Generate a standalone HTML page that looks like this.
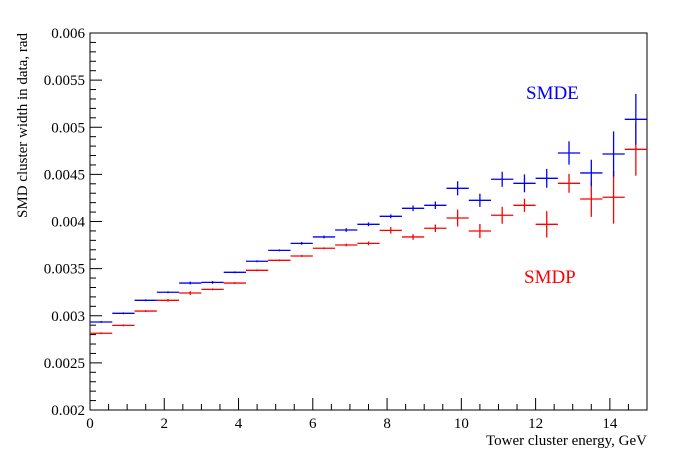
<!DOCTYPE html>
<html><head><meta charset="utf-8"><style>
body{margin:0;background:#fff}
svg{display:block;font-family:"Liberation Serif",serif}
</style></head><body>
<svg id="c" width="696" height="472"></svg>
<script>
const binLo=0, binWidth=0.6;
const smdeVals=[0.002934,0.003026,0.003164,0.003249,0.003347,0.003354,0.003461,0.003578,0.003694,0.003768,0.003836,0.003910,0.003970,0.004055,0.004140,0.004172,0.004352,0.004225,0.004448,0.004405,0.004458,0.004727,0.004515,0.004716,0.005084];
const smdeErrs=[0.00001,0.00001,0.00001,0.00001,0.000015,0.000015,0.00001,0.00001,0.00001,0.000015,0.000015,0.00002,0.00002,0.00002,0.00003,0.00004,0.000075,0.00007,0.00008,0.000095,0.0001,0.000124,0.00014,0.00024,0.00027];
const smdpVals=[0.002814,0.002898,0.003050,0.003164,0.003241,0.003280,0.003347,0.003482,0.003588,0.003634,0.003716,0.003751,0.003768,0.003906,0.003836,0.003928,0.004037,0.003899,0.004066,0.004172,0.003970,0.004405,0.004239,0.004257,0.004766];
const smdpErrs=[0.00001,0.00001,0.00001,0.000015,0.00002,0.00001,0.00001,0.00001,0.00001,0.00001,0.00001,0.000015,0.00002,0.000035,0.00003,0.00004,0.00009,0.000075,0.00009,0.00007,0.00014,0.0001,0.00019,0.00028,0.00028];
const yTicks=["0.002","0.0025","0.003","0.0035","0.004","0.0045","0.005","0.0055","0.006"];
const xTicks=["0","2","4","6","8","10","12","14"];
const NS="http://www.w3.org/2000/svg";
const svg=document.getElementById('c');
const L=90,R=647,T=33,B=410;
const X=v=>L+(v-0)/15*(R-L);
const Y=v=>B-(v-0.002)/0.004*(B-T);
function mk(tag,a,p){const e=document.createElementNS(NS,tag);for(const k in a)e.setAttribute(k,a[k]);(p||svg).appendChild(e);return e;}
const frame=mk('rect',{x:L,y:T,width:R-L,height:B-T,fill:'none',stroke:'#000','stroke-width':1});


const axes=mk('g',{stroke:'#000','stroke-width':1});


for(let i=0;i<=40;i++){const v=0.002+i*0.0001;const y=Y(v);const len=i%5==0?12:6;
 mk('line',{x1:L,x2:L+len,y1:y,y2:y},axes);}
for(let i=0;i<=30;i++){const v=i*0.5;const x=X(v);const len=i%4==0?12:6;
 mk('line',{x1:x,x2:x,y1:B,y2:B-len},axes);}
yTicks.forEach(t=>{const e=mk('text',{x:L-5,y:Y(parseFloat(t))+5,'text-anchor':'end','font-size':15});e.textContent=t;
 
 });
xTicks.forEach(t=>{const e=mk('text',{x:X(parseFloat(t)),y:B+18,'text-anchor':'middle','font-size':15});e.textContent=t;
 
 });
const xt=mk('text',{x:R,y:445,'text-anchor':'end','font-size':15});xt.textContent='Tower cluster energy, GeV';


const yt=mk('text',{x:0,y:0,'text-anchor':'end','font-size':15,transform:'translate(27,33) rotate(-90)'});yt.textContent='SMD cluster width in data, rad';


function series(vals,errs,color,name){
 const g=mk('g',{stroke:color,'stroke-width':1.3});
 
 
 vals.forEach((v,i)=>{const lo=binLo+i*binWidth,c=lo+binWidth/2;
  const p=mk('g',{},g);
  
  
  mk('line',{x1:X(lo),x2:X(lo+binWidth),y1:Y(v),y2:Y(v)},p);
  mk('line',{x1:X(c),x2:X(c),y1:Y(v-errs[i]),y2:Y(v+errs[i])},p);});
}
series(smdpVals,smdpErrs,'#ff0000','smdp-series');
series(smdeVals,smdeErrs,'#0000ff','smde-series');
const l1=mk('text',{x:526,y:99,'font-size':19,fill:'#0000ff'});l1.textContent='SMDE';


const l2=mk('text',{x:524,y:283,'font-size':19,fill:'#ff0000'});l2.textContent='SMDP';


</script>
</body></html>
